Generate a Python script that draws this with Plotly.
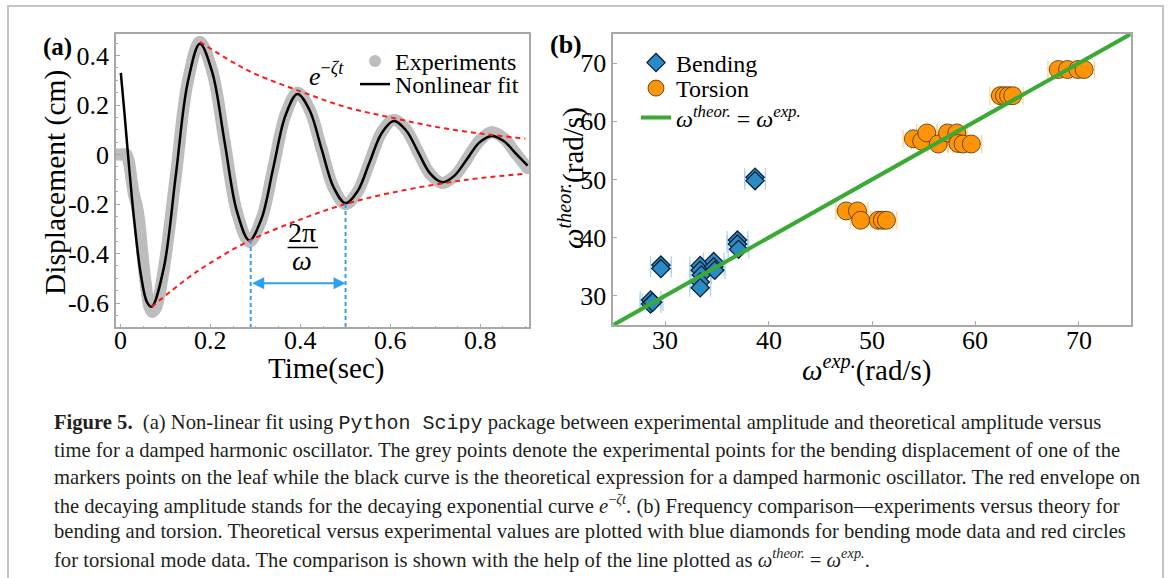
import plotly.graph_objects as go

W, H = 1168, 578

# ---------------- Panel (a) data ----------------
t_fit = [0.0, 0.008, 0.016, 0.030, 0.045, 0.058, 0.0687, 0.0955, 0.1224, 0.149, 0.176,
         0.2035, 0.231, 0.2585, 0.286, 0.3128, 0.3395, 0.3663, 0.393, 0.4198, 0.4465,
         0.4733, 0.500, 0.5268, 0.5535, 0.5803, 0.607, 0.634, 0.661, 0.688, 0.715,
         0.7425, 0.770, 0.7975, 0.825, 0.8518, 0.8785, 0.905]
y_fit = [0.33, 0.17, 0.0, -0.27, -0.49, -0.595, -0.615, -0.459, -0.083, 0.292, 0.448,
         0.332, 0.050, -0.231, -0.347, -0.260, -0.051, 0.158, 0.245, 0.180, 0.024,
         -0.132, -0.197, -0.148, -0.031, 0.086, 0.135, 0.099, 0.012, -0.076, -0.112,
         -0.085, -0.019, 0.048, 0.075, 0.055, 0.005, -0.045]

t_exp = [-0.008, 0.002, 0.012, 0.018, 0.023, 0.029, 0.036, 0.041, 0.048, 0.056, 0.063,
         0.070, 0.078, 0.0955, 0.1224, 0.149, 0.176, 0.2035, 0.231, 0.2585, 0.286,
         0.3128, 0.3395, 0.3663, 0.393, 0.4198, 0.4465, 0.4733, 0.500, 0.5268, 0.5535,
         0.5803, 0.607, 0.634, 0.661, 0.688, 0.715, 0.7425, 0.770, 0.7975, 0.825,
         0.8518, 0.8785, 0.905]
y_exp = [0.0, 0.0, 0.0, -0.03, -0.09, -0.16, -0.21, -0.27, -0.40, -0.53, -0.61,
         -0.635, -0.62, -0.465, -0.085, 0.295, 0.455, 0.336, 0.052, -0.234, -0.352,
         -0.263, -0.052, 0.160, 0.250, 0.183, 0.024, -0.134, -0.200, -0.150, -0.031,
         0.090, 0.140, 0.103, 0.012, -0.078, -0.115, -0.087, -0.018, 0.055, 0.090,
         0.066, 0.005, -0.055]

t_env_up = [0.176, 0.25, 0.30, 0.40, 0.50, 0.60, 0.70, 0.80, 0.90]
y_env_up = [0.455, 0.372, 0.325, 0.255, 0.192, 0.150, 0.112, 0.085, 0.064]
t_env_lo = [0.0687, 0.15, 0.20, 0.286, 0.40, 0.50, 0.60, 0.717, 0.80, 0.90]
y_env_lo = [-0.615, -0.498, -0.437, -0.348, -0.262, -0.200, -0.155, -0.116, -0.095, -0.078]

period_t = [0.289, 0.500]
period_y = [-0.345, -0.200]
arrow_y = -0.52

a_xticks = [0, 0.2, 0.4, 0.6, 0.8]
a_xtext = ["0", "0.2", "0.4", "0.6", "0.8"]
a_yticks = [-0.6, -0.4, -0.2, 0, 0.2, 0.4]
a_ytext = ["-0.6", "-0.4", "-0.2", "0", "0.2", "0.4"]
a_xrange = [-0.0107, 0.9088]
a_yrange = [-0.698, 0.487]

# ---------------- Panel (b) data ----------------
bending_x = [28.6, 28.6, 28.8, 29.6, 29.6, 33.4, 33.4, 33.5, 33.4, 33.4,
             34.7, 34.7, 34.8, 37.0, 37.0, 37.1, 38.7, 38.7]
bending_y = [29.3, 28.6, 28.9, 35.3, 34.7, 35.2, 34.4, 33.6, 32.4, 31.4,
             35.9, 35.0, 34.4, 39.6, 38.9, 38.0, 50.4, 49.8]
torsion_x = [47.5, 48.6, 48.9, 50.6, 51.0, 51.4,
             54.0, 54.8, 55.3, 56.4, 57.3, 58.2, 58.3, 58.8, 59.6,
             62.4, 62.8, 63.2, 63.6,
             68.0, 68.9, 69.9, 70.5]
torsion_y = [44.6, 44.6, 43.0, 43.0, 43.0, 43.0,
             57.0, 56.6, 58.0, 56.1, 58.0, 58.0, 56.2, 56.1, 56.1,
             64.4, 64.4, 64.4, 64.4,
             68.9, 68.9, 68.9, 68.9]
freq_err = 1.0
identity_line = [25, 75]
b_ticks = [30, 40, 50, 60, 70]
b_ticktext = ["30", "40", "50", "60", "70"]
b_range = [25, 75]

SERIF = "Liberation Serif, Times New Roman, serif"
FRAME = "#a8a8a8"

fig = go.Figure()

# ---- panel (a) traces ----
fig.add_trace(go.Scatter(x=t_exp, y=y_exp, mode="lines", line=dict(color="#bdbdbd", width=12, shape="spline"),
                         showlegend=False, legendgroup="exp", xaxis="x", yaxis="y", hoverinfo="skip"))
fig.add_trace(go.Scatter(x=t_exp, y=y_exp, mode="markers", name="Experiments",
                         marker=dict(color="#bdbdbd", size=12), legendgroup="exp",
                         xaxis="x", yaxis="y", legend="legend"))
fig.add_trace(go.Scatter(x=t_fit, y=y_fit, mode="lines", name="Nonlinear fit",
                         line=dict(color="black", width=2.5, shape="spline"),
                         xaxis="x", yaxis="y", legend="legend3"))
for tt, yy in ((t_env_up, y_env_up), (t_env_lo, y_env_lo)):
    fig.add_trace(go.Scatter(x=tt, y=yy, mode="lines", showlegend=False,
                             line=dict(color="#ff1a1a", width=2, dash="5px,4px", shape="spline"),
                             xaxis="x", yaxis="y"))
for pt, py in zip(period_t, period_y):
    fig.add_trace(go.Scatter(x=[pt, pt], y=[py, a_yrange[0]], mode="lines", showlegend=False,
                             line=dict(color="#2f9ff0", width=2, dash="4px,3px"),
                             xaxis="x", yaxis="y"))

# ---- panel (b) traces ----
fig.add_trace(go.Scatter(x=bending_x, y=bending_y, mode="markers", name="Bending",
                         marker=dict(symbol="diamond", size=14, color="#2a8bc6",
                                     line=dict(color="#0b2136", width=1.3)),
                         error_x=dict(type="constant", value=freq_err, color="#a9d3ef",
                                      thickness=1.2, width=9),
                         xaxis="x2", yaxis="y2", legend="legend2"))
fig.add_trace(go.Scatter(x=torsion_x, y=torsion_y, mode="markers", name="Torsion",
                         marker=dict(symbol="circle", size=18, color="#ff9408",
                                     line=dict(color="#4a3000", width=0.8)),
                         error_x=dict(type="constant", value=freq_err, color="#ffcf8a",
                                      thickness=1.2, width=9),
                         xaxis="x2", yaxis="y2", legend="legend4"))
fig.add_trace(go.Scatter(x=identity_line, y=identity_line, mode="lines",
                         name="<i>ω</i><sup><i>theor.</i></sup> = <i>ω</i><sup><i>exp.</i></sup>",
                         line=dict(color="#3aaa35", width=4),
                         xaxis="x2", yaxis="y2", legend="legend5"))

axis_common = dict(showline=True, mirror=True, linecolor=FRAME, linewidth=1.5,
                   ticks="inside", ticklen=4, tickcolor=FRAME, showgrid=False,
                   zeroline=False, tickfont=dict(family=SERIF, size=26, color="black"))


def leg(xpx, top_px, size=24):
    return dict(x=xpx / W, y=1 - top_px / H, xanchor="left", yanchor="top",
                bgcolor="rgba(0,0,0,0)", font=dict(family=SERIF, size=size, color="black"))


fig.update_layout(
    width=W, height=H, margin=dict(l=0, r=0, t=0, b=0),
    paper_bgcolor="white", plot_bgcolor="white",
    xaxis=dict(domain=[116 / W, 529.3 / W], range=a_xrange, tickvals=a_xticks, showticklabels=False,
               anchor="y", minor=dict(ticks="inside", ticklen=2, dtick=0.05, tickcolor=FRAME), **axis_common),
    yaxis=dict(domain=[1 - 327.3 / H, 1 - 34 / H], range=a_yrange, tickvals=a_yticks, ticktext=a_ytext,
               anchor="x", minor=dict(ticks="inside", ticklen=2, dtick=0.05, tickcolor=FRAME), **axis_common),
    xaxis2=dict(domain=[613.3 / W, 1130.7 / W], range=b_range, tickvals=b_ticks, showticklabels=False,
                anchor="y2", **axis_common),
    yaxis2=dict(domain=[1 - 325 / H, 1 - 34 / H], range=b_range, tickvals=b_ticks,
                anchor="x2", **axis_common),
    legend=leg(355, 39),
    legend3=leg(355, 62),
    legend2=leg(636, 40.5),
    legend4=leg(636, 66),
    legend5=leg(636, 95.5),
    showlegend=True,
)

ann = []


def paper_text(text, xpx, ypx, size, angle=0, xanchor="center", color="black", family=SERIF):
    ann.append(dict(text=text, x=xpx / W, y=1 - ypx / H, xref="paper", yref="paper",
                    xanchor=xanchor, yanchor="middle", showarrow=False, textangle=angle,
                    font=dict(family=family, size=size, color=color)))


# x tick labels placed at the tick values through the axes
for xv, xt in zip(a_xticks, a_xtext):
    ann.append(dict(text=xt, x=xv, y=1 - 340 / H, xref="x", yref="paper", showarrow=False,
                    yanchor="middle", font=dict(family=SERIF, size=26, color="black")))
for xv, xt in zip(b_ticks, b_ticktext):
    ann.append(dict(text=xt, x=xv, y=1 - 340 / H, xref="x2", yref="paper", showarrow=False,
                    yanchor="middle", font=dict(family=SERIF, size=26, color="black")))

# axis titles and panel labels
paper_text("Displacement (cm)", 55, 183, 29.5, angle=-90)
paper_text("Time(sec)", 326, 368, 29)
paper_text("<i>ω</i><sup><i>theor.</i></sup>(rad/s)", 571, 178, 29, angle=-90)
paper_text("<i>ω</i><sup><i>exp.</i></sup>(rad/s)", 866, 368, 29)
paper_text("<b>(a)</b>", 57, 47, 25)
paper_text("<b>(b)</b>", 566, 45, 26)

# panel (a) math annotations
ann.append(dict(text="<i>e</i><sup>−<i>ζt</i></sup>", x=0.4565, y=0.322, xref="x", yref="y",
                showarrow=False, font=dict(family=SERIF, size=26, color="black")))
ann.append(dict(text="2π", x=0.404, y=-0.315, xref="x", yref="y", showarrow=False,
                font=dict(family=SERIF, size=28, color="black")))
ann.append(dict(text="<i>ω</i>", x=0.404, y=-0.428, xref="x", yref="y", showarrow=False,
                font=dict(family=SERIF, size=28, color="black")))
ann.append(dict(text="", x=period_t[1], y=arrow_y, ax=period_t[0], ay=arrow_y,
                xref="x", yref="y", axref="x", ayref="y", showarrow=True,
                arrowhead=2, startarrowhead=2, arrowside="end+start", arrowsize=1.2,
                startarrowsize=1.2, arrowwidth=2, arrowcolor="#2f9ff0", standoff=0, startstandoff=0))

# caption
cap_lines = [
    "<b>Figure 5.</b>\u00a0\u00a0(a) Non-linear fit using <span style=\"font-family:'Liberation Mono';font-size:20px\">Python Scipy</span> package between experimental amplitude and theoretical amplitude versus",
    "time for a damped harmonic oscillator. The grey points denote the experimental points for the bending displacement of one of the",
    "markers points on the leaf while the black curve is the theoretical expression for a damped harmonic oscillator. The red envelope on",
    "the decaying amplitude stands for the decaying exponential curve <i>e</i><sup>−<i>ζt</i></sup>. (b) Frequency comparison—experiments versus theory for",
    "bending and torsion. Theoretical versus experimental values are plotted with blue diamonds for bending mode data and red circles",
    "for torsional mode data. The comparison is shown with the help of the line plotted as <i>ω</i><sup><i>theor.</i></sup> = <i>ω</i><sup><i>exp.</i></sup>.",
]
cap_y = [423.3, 450, 477.3, 504.3, 531, 558.3]
for line, yy in zip(cap_lines, cap_y):
    paper_text(line, 52, yy, 20.6, xanchor="left", color="#231f20")

fig.update_layout(annotations=ann)

# fraction bar and outer frame
fig.add_shape(type="line", x0=0.371, x1=0.4387, y0=-0.376, y1=-0.376, xref="x", yref="y",
              line=dict(color="black", width=1.5))
fig.add_shape(type="rect", x0=8 / W, x1=1163 / W, y0=-0.05, y1=1 - 6 / H, xref="paper", yref="paper",
              line=dict(color="#c4c4c4", width=2), layer="below")

fig.write_html("out.html", config={"displayModeBar": False},
               post_script="document.body.style.margin='0';document.body.style.overflow='hidden';")
